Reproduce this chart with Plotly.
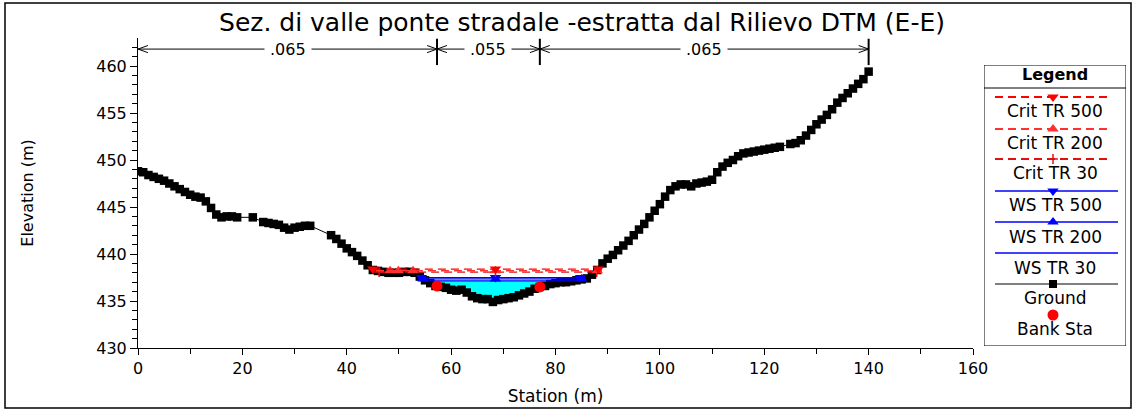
import plotly.graph_objects as go

# ---------------- data ----------------
ground_sta = [0, 1, 2, 3, 4, 5, 6, 7, 8, 9, 10, 11, 12, 13, 14, 15, 16, 17, 18, 19,
              22, 24, 25, 26, 27, 28, 29, 30, 31, 32, 33,
              37, 38, 39, 40, 41, 42, 43, 44, 45, 46, 47, 48, 49, 50, 51, 52, 53, 54, 55,
              56, 57, 58, 59, 60, 61, 62, 63, 64, 65, 66, 67, 68, 69, 70, 71, 72, 73, 74, 75,
              76, 77, 78, 79, 80, 81, 82, 83, 84, 85, 86, 87, 88, 89, 90, 91, 92, 93, 94, 95,
              96, 97, 98, 99, 100, 101, 102, 103, 104, 105, 106, 107, 108, 109, 110, 111, 112,
              113, 114, 115, 116, 117, 118, 119, 120, 121, 122, 123,
              125, 126, 127, 128, 129, 130, 131, 132, 133, 134, 135, 136, 137, 138, 139, 140]
ground_elev = [448.8, 448.7, 448.4, 448.2, 448.0, 447.8, 447.5, 447.2, 446.9, 446.6, 446.3, 446.1, 446.0, 445.6, 444.9, 444.2, 443.9, 444.0, 444.0, 443.9,
               443.9, 443.4, 443.3, 443.2, 443.1, 442.8, 442.6, 442.8, 442.9, 443.0, 443.0,
               442.0, 441.6, 441.1, 440.6, 440.2, 439.8, 439.3, 438.8, 438.3, 438.2, 438.1, 438.0, 438.0, 438.0, 438.1, 438.1, 438.0, 437.6, 437.2,
               436.9, 436.6, 436.5, 436.4, 436.2, 436.1, 436.2, 435.9, 435.5, 435.3, 435.2, 435.2, 434.9, 435.1, 435.2, 435.3, 435.4, 435.6, 435.8, 436.0,
               436.3, 436.5, 436.6, 436.8, 436.9, 437.0, 437.0, 437.1, 437.2, 437.3, 437.4, 437.8, 438.3, 439.0, 439.5, 439.9, 440.4, 440.9, 441.4, 442.0,
               442.6, 443.2, 443.9, 444.6, 445.3, 446.1, 446.8, 447.2, 447.4, 447.4, 447.2, 447.5, 447.6, 447.7, 447.9, 448.7, 449.3,
               449.7, 450.0, 450.4, 450.7, 450.8, 450.9, 451.0, 451.1, 451.2, 451.3, 451.4,
               451.7, 451.8, 452.1, 452.6, 453.2, 453.8, 454.3, 454.8, 455.4, 456.1, 456.6, 457.1, 457.6, 458.1, 458.6, 459.4]

bank_sta = [57.3, 77.0]
bank_elev = [436.6, 436.5]

roughness_breaks = [0.0, 57.3, 77.0, 140.0]
roughness_labels = [".065", ".055", ".065"]

profile_names = ["Crit TR 500", "Crit TR 200", "Crit TR 30", "WS TR 500", "WS TR 200", "WS TR 30"]
profile_elev = [438.40, 438.22, 438.08, 437.50, 437.35, 437.15]
profile_left = [45.0, 45.6, 46.2, 54.3, 54.6, 55.0]
profile_right = [88.2, 88.0, 87.9, 85.6, 85.2, 84.3]
profile_marker_sta = [[45.0, 68.5, 88.2],
                      [48.3, 49.9, 52.7, 68.5, 88.0],
                      [46.2, 68.5, 87.9],
                      [54.3, 68.5, 84.8],
                      [54.6, 68.5, 85.0],
                      []]

x_ticks = [0, 20, 40, 60, 80, 100, 120, 140, 160]
y_ticks = [430, 435, 440, 445, 450, 455, 460]

# ---------------- styles ----------------
FONT = "DejaVu Sans"
W, H = 1135, 410
L, R, T, B = 138, 5, 38, 62
PW, PH = W - L - R, H - T - B
X_AXIS_END = 973


def px(x):
    return (x - L) / PW


def py(y):
    return (H - B - y) / PH


styles = [
    dict(color="#FF0000", dash="8px,5px", width=1.3, symbol="triangle-down", msize=10),
    dict(color="#FF3030", dash="8px,5px", width=1.3, symbol="triangle-up", msize=10),
    dict(color="#E01010", dash="8px,5px", width=1.3, symbol="cross-thin", msize=7),
    dict(color="#0000FF", dash="solid", width=1.2, symbol="triangle-down", msize=10),
    dict(color="#0000FF", dash="solid", width=1.2, symbol="triangle-up", msize=10),
    dict(color="#0000FF", dash="solid", width=1.2, symbol=None, msize=0),
]

fig = go.Figure()

# water fill below the lowest water surface (WS TR 30)
ws_i = 5
wl, wr, we = profile_left[ws_i], profile_right[ws_i], profile_elev[ws_i]
fx = [wl] + [s for s in ground_sta if wl < s < wr] + [wr]
fy = [we] + [min(e, we) for s, e in zip(ground_sta, ground_elev) if wl < s < wr] + [we]
fig.add_trace(go.Scatter(x=fx, y=fy, fill="toself", fillcolor="#00FFFF", mode="none",
                         hoverinfo="skip", showlegend=False))

# ground
fig.add_trace(go.Scatter(x=ground_sta, y=ground_elev, mode="lines+markers",
                         line=dict(color="black", width=1),
                         marker=dict(symbol="square", size=8.5, color="black"),
                         name="Ground", showlegend=False))

# water surface & critical lines
for i in [5, 4, 3, 2, 1, 0]:
    st = styles[i]
    fig.add_trace(go.Scatter(x=[profile_left[i], profile_right[i]], y=[profile_elev[i]] * 2,
                             mode="lines", line=dict(color=st["color"], width=st["width"], dash=st["dash"]),
                             name=profile_names[i], showlegend=False))
    if st["symbol"] and profile_marker_sta[i]:
        mk = dict(symbol=st["symbol"], size=st["msize"], color=st["color"])
        if st["symbol"] == "cross-thin":
            mk["line"] = dict(color=st["color"], width=1.5)
        fig.add_trace(go.Scatter(x=profile_marker_sta[i], y=[profile_elev[i]] * len(profile_marker_sta[i]),
                                 mode="markers", marker=mk, showlegend=False, hoverinfo="skip"))

# bank stations
fig.add_trace(go.Scatter(x=bank_sta, y=bank_elev, mode="markers",
                         marker=dict(symbol="circle", size=11, color="#FF0000"),
                         name="Bank Sta", showlegend=False))

shapes = []
annotations = []

# roughness arrows along the top
y_arr, y_div0, y_div1 = 461.8, 460.1, 462.9
dx, dy = 1.9, 0.38
for a, b, lab in zip(roughness_breaks[:-1], roughness_breaks[1:], roughness_labels):
    shapes.append(dict(type="line", xref="x", yref="y", x0=a, x1=b, y0=y_arr, y1=y_arr,
                       line=dict(color="black", width=1)))
    shapes.append(dict(type="path", xref="x", yref="y",
                       path=f"M {a+dx},{y_arr+dy} L {a},{y_arr} L {a+dx},{y_arr-dy}",
                       line=dict(color="black", width=1)))
    shapes.append(dict(type="path", xref="x", yref="y",
                       path=f"M {b-dx},{y_arr+dy} L {b},{y_arr} L {b-dx},{y_arr-dy}",
                       line=dict(color="black", width=1)))
    annotations.append(dict(x=(a + b) / 2, y=y_arr, xref="x", yref="y", text=lab, showarrow=False,
                            font=dict(family=FONT, size=16, color="black"), bgcolor="white",
                            borderpad=5))
for b in roughness_breaks[1:]:
    shapes.append(dict(type="line", xref="x", yref="y", x0=b, x1=b, y0=y_div0, y1=y_div1,
                       line=dict(color="black", width=2)))

# outer frame
shapes.append(dict(type="rect", xref="paper", yref="paper", x0=px(5), x1=px(1131), y0=py(408), y1=py(3),
                   line=dict(color="black", width=1.5), fillcolor="rgba(0,0,0,0)"))

# ---------- custom legend (drawn on x2/y2, pixel-like coordinates) ----------
LX0, LX1, LY0, LY1 = 984, 1126, 65, 346
shapes.append(dict(type="rect", xref="x2", yref="y2", x0=LX0, x1=LX1, y0=LY0, y1=LY1,
                   line=dict(color="black", width=1), fillcolor="white", layer="below"))
shapes.append(dict(type="line", xref="x2", yref="y2", x0=LX0, x1=LX1 + 2, y0=88, y1=88,
                   line=dict(color="black", width=1)))
annotations.append(dict(x=1055, y=75, xref="x2", yref="y2", text="<b>Legend</b>", showarrow=False,
                        font=dict(family=FONT, size=16, color="black")))

leg_line_y = [97, 129, 159, 191, 222, 253]
leg_text_y = [111, 143, 173, 205, 237, 268]
for i in range(6):
    st = styles[i]
    x1 = 1110 if i < 3 else 1118
    fig.add_trace(go.Scatter(x=[995, x1], y=[leg_line_y[i]] * 2, xaxis="x2", yaxis="y2", mode="lines",
                             line=dict(color=st["color"], width=st["width"] + 0.5, dash=st["dash"]),
                             showlegend=False, hoverinfo="skip"))
    if st["symbol"]:
        mk = dict(symbol=st["symbol"], size=st["msize"], color=st["color"])
        if st["symbol"] == "cross-thin":
            mk["line"] = dict(color=st["color"], width=1.5)
        fig.add_trace(go.Scatter(x=[1053], y=[leg_line_y[i]], xaxis="x2", yaxis="y2", mode="markers",
                                 marker=mk, showlegend=False, hoverinfo="skip"))
    annotations.append(dict(x=1055, y=leg_text_y[i], xref="x2", yref="y2", text=profile_names[i],
                            showarrow=False, font=dict(family=FONT, size=17, color="black")))

fig.add_trace(go.Scatter(x=[995, 1118], y=[284, 284], xaxis="x2", yaxis="y2", mode="lines",
                         line=dict(color="black", width=1), showlegend=False, hoverinfo="skip"))
fig.add_trace(go.Scatter(x=[1053], y=[284], xaxis="x2", yaxis="y2", mode="markers",
                         marker=dict(symbol="square", size=8, color="black"), showlegend=False, hoverinfo="skip"))
annotations.append(dict(x=1055, y=298, xref="x2", yref="y2", text="Ground", showarrow=False,
                        font=dict(family=FONT, size=17, color="black")))
fig.add_trace(go.Scatter(x=[1053], y=[315], xaxis="x2", yaxis="y2", mode="markers",
                         marker=dict(symbol="circle", size=11, color="#FF0000"), showlegend=False, hoverinfo="skip"))
annotations.append(dict(x=1055, y=329, xref="x2", yref="y2", text="Bank Sta", showarrow=False,
                        font=dict(family=FONT, size=17, color="black")))

y_top = 430 + (H - B - T) / 9.4

fig.update_layout(
    width=W, height=H,
    margin=dict(l=L, r=R, t=T, b=B, autoexpand=False),
    paper_bgcolor="white", plot_bgcolor="white",
    showlegend=False,
    font=dict(family=FONT, color="black", size=16),
    title=dict(text="Sez. di valle ponte stradale -estratta dal Rilievo DTM (E-E)",
               x=px(582), xref="paper", xanchor="center",
               y=1 - 22 / H, yref="container", yanchor="middle",
               font=dict(family=FONT, size=25, color="black")),
    xaxis=dict(domain=[0, (X_AXIS_END - L) / PW], range=[0, 160], tickvals=x_ticks,
               showline=True, linecolor="black", linewidth=1, ticks="outside", ticklen=6,
               tickcolor="black", minor=dict(dtick=10, ticklen=5, ticks="outside", tickcolor="black"),
               showgrid=False, zeroline=False, tickfont=dict(family=FONT, size=16),
               title=dict(text="Station (m)", font=dict(family=FONT, size=17), standoff=12),
               automargin=False),
    yaxis=dict(domain=[0, 1], range=[430, y_top], tickvals=y_ticks,
               showline=True, linecolor="black", linewidth=1, ticks="outside", ticklen=7,
               tickcolor="black", minor=dict(dtick=1, ticklen=5, ticks="outside", tickcolor="black"),
               showgrid=False, zeroline=False, tickfont=dict(family=FONT, size=16),
               title=dict(text="Elevation (m)", font=dict(family=FONT, size=16), standoff=58),
               automargin=False),
    xaxis2=dict(domain=[px(LX0), px(LX1)], range=[LX0, LX1], visible=False, anchor="y2",
                fixedrange=True),
    yaxis2=dict(domain=[py(LY1), py(LY0)], range=[LY1, LY0], visible=False, anchor="x2",
                fixedrange=True),
    shapes=shapes,
    annotations=annotations,
)

fig.write_html("out.html")
